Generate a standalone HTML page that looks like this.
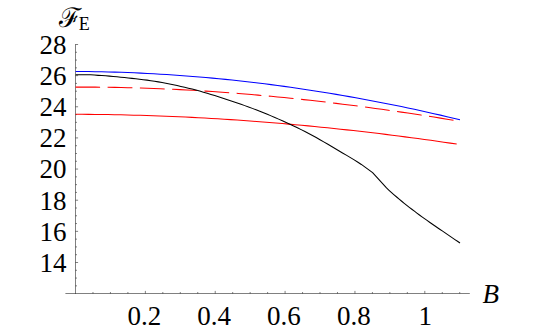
<!DOCTYPE html>
<html><head><meta charset="utf-8"><style>
html,body{margin:0;padding:0;background:#fff;font-family:"Liberation Sans",sans-serif;overflow:hidden}
svg{display:block}
.ax{stroke:#000;stroke-width:0.5;fill:none}
.c{fill:none;stroke-width:1.05;stroke-linejoin:round}
.t{font-family:"Liberation Serif","DejaVu Serif",serif;font-size:27px;fill:#000}
</style></head><body>
<svg width="539" height="333" viewBox="0 0 539 333">
<rect width="539" height="333" fill="#fff"/>
<line x1="75.5" y1="44.20" x2="75.5" y2="293.8" class="ax"/>
<line x1="65.4" y1="293.5" x2="469.8" y2="293.5" class="ax"/>
<line x1="75.5" y1="285.85" x2="77.0" y2="285.85" class="ax"/>
<line x1="75.5" y1="278.06" x2="77.0" y2="278.06" class="ax"/>
<line x1="75.5" y1="270.28" x2="77.0" y2="270.28" class="ax"/>
<line x1="75.5" y1="262.49" x2="78.1" y2="262.49" class="ax"/>
<line x1="75.5" y1="254.70" x2="77.0" y2="254.70" class="ax"/>
<line x1="75.5" y1="246.92" x2="77.0" y2="246.92" class="ax"/>
<line x1="75.5" y1="239.13" x2="77.0" y2="239.13" class="ax"/>
<line x1="75.5" y1="231.35" x2="78.1" y2="231.35" class="ax"/>
<line x1="75.5" y1="223.56" x2="77.0" y2="223.56" class="ax"/>
<line x1="75.5" y1="215.78" x2="77.0" y2="215.78" class="ax"/>
<line x1="75.5" y1="207.99" x2="77.0" y2="207.99" class="ax"/>
<line x1="75.5" y1="200.21" x2="78.1" y2="200.21" class="ax"/>
<line x1="75.5" y1="192.42" x2="77.0" y2="192.42" class="ax"/>
<line x1="75.5" y1="184.63" x2="77.0" y2="184.63" class="ax"/>
<line x1="75.5" y1="176.85" x2="77.0" y2="176.85" class="ax"/>
<line x1="75.5" y1="169.06" x2="78.1" y2="169.06" class="ax"/>
<line x1="75.5" y1="161.28" x2="77.0" y2="161.28" class="ax"/>
<line x1="75.5" y1="153.49" x2="77.0" y2="153.49" class="ax"/>
<line x1="75.5" y1="145.71" x2="77.0" y2="145.71" class="ax"/>
<line x1="75.5" y1="137.92" x2="78.1" y2="137.92" class="ax"/>
<line x1="75.5" y1="130.14" x2="77.0" y2="130.14" class="ax"/>
<line x1="75.5" y1="122.35" x2="77.0" y2="122.35" class="ax"/>
<line x1="75.5" y1="114.57" x2="77.0" y2="114.57" class="ax"/>
<line x1="75.5" y1="106.78" x2="78.1" y2="106.78" class="ax"/>
<line x1="75.5" y1="98.99" x2="77.0" y2="98.99" class="ax"/>
<line x1="75.5" y1="91.21" x2="77.0" y2="91.21" class="ax"/>
<line x1="75.5" y1="83.42" x2="77.0" y2="83.42" class="ax"/>
<line x1="75.5" y1="75.64" x2="78.1" y2="75.64" class="ax"/>
<line x1="75.5" y1="67.85" x2="77.0" y2="67.85" class="ax"/>
<line x1="75.5" y1="60.07" x2="77.0" y2="60.07" class="ax"/>
<line x1="75.5" y1="52.28" x2="77.0" y2="52.28" class="ax"/>
<line x1="75.5" y1="44.50" x2="78.1" y2="44.50" class="ax"/>
<line x1="92.97" y1="293.5" x2="92.97" y2="292.0" class="ax"/>
<line x1="110.43" y1="293.5" x2="110.43" y2="292.0" class="ax"/>
<line x1="127.90" y1="293.5" x2="127.90" y2="292.0" class="ax"/>
<line x1="145.36" y1="293.5" x2="145.36" y2="290.9" class="ax"/>
<line x1="162.82" y1="293.5" x2="162.82" y2="292.0" class="ax"/>
<line x1="180.29" y1="293.5" x2="180.29" y2="292.0" class="ax"/>
<line x1="197.75" y1="293.5" x2="197.75" y2="292.0" class="ax"/>
<line x1="215.22" y1="293.5" x2="215.22" y2="290.9" class="ax"/>
<line x1="232.69" y1="293.5" x2="232.69" y2="292.0" class="ax"/>
<line x1="250.15" y1="293.5" x2="250.15" y2="292.0" class="ax"/>
<line x1="267.62" y1="293.5" x2="267.62" y2="292.0" class="ax"/>
<line x1="285.08" y1="293.5" x2="285.08" y2="290.9" class="ax"/>
<line x1="302.55" y1="293.5" x2="302.55" y2="292.0" class="ax"/>
<line x1="320.01" y1="293.5" x2="320.01" y2="292.0" class="ax"/>
<line x1="337.48" y1="293.5" x2="337.48" y2="292.0" class="ax"/>
<line x1="354.94" y1="293.5" x2="354.94" y2="290.9" class="ax"/>
<line x1="372.41" y1="293.5" x2="372.41" y2="292.0" class="ax"/>
<line x1="389.87" y1="293.5" x2="389.87" y2="292.0" class="ax"/>
<line x1="407.34" y1="293.5" x2="407.34" y2="292.0" class="ax"/>
<line x1="424.80" y1="293.5" x2="424.80" y2="290.9" class="ax"/>
<line x1="442.27" y1="293.5" x2="442.27" y2="292.0" class="ax"/>
<line x1="459.73" y1="293.5" x2="459.73" y2="292.0" class="ax"/>
<text class="t" x="66.6" y="271.79" text-anchor="end">14</text>
<text class="t" x="66.6" y="240.65" text-anchor="end">16</text>
<text class="t" x="66.6" y="209.51" text-anchor="end">18</text>
<text class="t" x="66.6" y="178.36" text-anchor="end">20</text>
<text class="t" x="66.6" y="147.22" text-anchor="end">22</text>
<text class="t" x="66.6" y="116.08" text-anchor="end">24</text>
<text class="t" x="66.6" y="84.94" text-anchor="end">26</text>
<text class="t" x="66.6" y="53.8" text-anchor="end">28</text>
<text class="t" x="127.4" y="325.05">0.2</text>
<text class="t" x="197.3" y="325.05">0.4</text>
<text class="t" x="267.1" y="325.05">0.6</text>
<text class="t" x="337" y="325.05">0.8</text>
<text class="t" x="418.6" y="325.05">1</text>
<text class="t" x="482.5" y="302.9" font-style="italic">B</text>
<text class="t" x="59" y="27">ℱ</text>
<text class="t" x="78.8" y="30.05" style="font-size:18px">E</text>
<path d="M75.60 71.50 L82.12 71.53 L88.63 71.60 L95.15 71.69 L101.66 71.81 L108.18 71.95 L114.69 72.13 L121.21 72.34 L127.72 72.57 L134.24 72.83 L140.75 73.12 L147.27 73.43 L153.78 73.78 L160.30 74.15 L166.81 74.55 L173.33 74.98 L179.84 75.43 L186.36 75.92 L192.87 76.43 L199.39 76.96 L205.91 77.53 L212.42 78.12 L218.94 78.74 L225.45 79.38 L231.97 80.05 L238.48 80.75 L245.00 81.47 L251.51 82.22 L258.03 83.00 L264.54 83.81 L271.06 84.64 L277.57 85.49 L284.09 86.37 L290.60 87.28 L297.12 88.22 L303.63 89.18 L310.15 90.16 L316.66 91.17 L323.18 92.21 L329.69 93.27 L336.21 94.36 L342.73 95.47 L349.24 96.61 L355.76 97.77 L362.27 98.96 L368.79 100.17 L375.30 101.41 L381.82 102.67 L388.33 103.96 L394.85 105.27 L401.36 106.61 L407.88 107.97 L414.39 109.35 L420.91 110.76 L427.42 112.19 L433.94 113.65 L440.45 115.13 L446.97 116.64 L453.48 118.17 L460.00 119.72" class="c" stroke="#0000ff"/>
<path d="M75.60 87.11 L82.12 87.10 L88.63 87.11 L95.15 87.14 L101.66 87.19 L108.18 87.27 L114.69 87.38 L121.21 87.50 L127.72 87.65 L134.24 87.82 L140.75 88.01 L147.27 88.23 L153.78 88.46 L160.30 88.72 L166.81 89.00 L173.33 89.31 L179.84 89.63 L186.36 89.97 L192.87 90.34 L199.39 90.73 L205.91 91.13 L212.42 91.56 L218.94 92.01 L225.45 92.48 L231.97 92.97 L238.48 93.48 L245.00 94.01 L251.51 94.55 L258.03 95.12 L264.54 95.71 L271.06 96.31 L277.57 96.93 L284.09 97.58 L290.60 98.24 L297.12 98.92 L303.63 99.62 L310.15 100.33 L316.66 101.06 L323.18 101.81 L329.69 102.58 L336.21 103.37 L342.73 104.17 L349.24 104.99 L355.76 105.83 L362.27 106.68 L368.79 107.55 L375.30 108.43 L381.82 109.33 L388.33 110.25 L394.85 111.18 L401.36 112.13 L407.88 113.09 L414.39 114.07 L420.91 115.07 L427.42 116.07 L433.94 117.10 L440.45 118.14 L446.97 119.19 L453.48 120.25 L460.00 121.33" class="c" stroke="#ff0000" stroke-dasharray="24.8 7.5" stroke-dashoffset="0.3"/>
<path d="M75.60 114.31 L82.06 114.34 L88.52 114.38 L94.98 114.43 L101.44 114.51 L107.90 114.60 L114.36 114.71 L120.82 114.84 L127.27 114.99 L133.73 115.15 L140.19 115.33 L146.65 115.53 L153.11 115.74 L159.57 115.97 L166.03 116.22 L172.49 116.49 L178.95 116.77 L185.41 117.07 L191.87 117.39 L198.33 117.72 L204.79 118.07 L211.25 118.44 L217.71 118.82 L224.16 119.22 L230.62 119.64 L237.08 120.07 L243.54 120.52 L250.00 120.99 L256.46 121.47 L262.92 121.96 L269.38 122.48 L275.84 123.01 L282.30 123.55 L288.76 124.11 L295.22 124.69 L301.68 125.28 L308.14 125.89 L314.59 126.52 L321.05 127.16 L327.51 127.81 L333.97 128.48 L340.43 129.17 L346.89 129.87 L353.35 130.59 L359.81 131.32 L366.27 132.06 L372.73 132.83 L379.19 133.60 L385.65 134.39 L392.11 135.20 L398.57 136.02 L405.03 136.86 L411.48 137.71 L417.94 138.57 L424.40 139.45 L430.86 140.35 L437.32 141.26 L443.78 142.18 L450.24 143.12 L456.70 144.07" class="c" stroke="#ff0000"/>
<path d="M75.60 74.65 L79.36 74.65 L83.12 74.65 L86.88 74.67 L90.64 74.83 L94.40 75.09 L98.16 75.36 L101.92 75.59 L105.68 75.84 L109.44 76.11 L113.19 76.42 L116.95 76.77 L120.71 77.15 L124.47 77.55 L128.23 77.96 L131.99 78.37 L135.75 78.78 L139.51 79.20 L143.27 79.65 L147.03 80.13 L150.79 80.67 L154.55 81.25 L158.31 81.88 L162.07 82.54 L165.83 83.25 L169.59 84.00 L173.35 84.77 L177.11 85.58 L180.87 86.42 L184.63 87.28 L188.38 88.16 L192.14 89.08 L195.90 90.04 L199.66 91.07 L203.42 92.14 L207.18 93.26 L210.94 94.41 L214.70 95.59 L218.46 96.79 L222.22 98.01 L225.98 99.24 L229.74 100.46 L233.50 101.71 L237.26 102.98 L241.02 104.28 L244.78 105.62 L248.54 106.98 L252.30 108.37 L256.06 109.80 L259.82 111.26 L263.57 112.76 L267.33 114.29 L271.09 115.86 L274.85 117.47 L278.61 119.11 L282.37 120.78 L286.13 122.49 L289.89 124.23 L293.65 126.00 L297.41 127.80 L301.17 129.64 L304.93 131.52 L308.69 133.46 L312.45 135.47 L316.21 137.58 L319.97 139.73 L323.73 141.89 L327.49 144.07 L331.25 146.27 L335.01 148.49 L338.76 150.72 L342.52 152.94 L346.28 155.14 L350.04 157.36 L353.80 159.62 L357.56 161.96 L361.32 164.44 L365.08 167.06 L368.84 169.80 L372.60 172.65 L386.50 187.95 L389.03 190.29 L391.57 192.57 L394.10 194.81 L396.64 197.00 L399.17 199.14 L401.71 201.24 L404.24 203.30 L406.78 205.33 L409.31 207.32 L411.84 209.27 L414.38 211.20 L416.91 213.09 L419.45 214.96 L421.98 216.80 L424.52 218.62 L427.05 220.42 L429.59 222.21 L432.12 223.98 L434.66 225.73 L437.19 227.48 L439.72 229.21 L442.26 230.94 L444.79 232.66 L447.33 234.38 L449.86 236.11 L452.40 237.83 L454.93 239.56 L457.47 241.30 L460.00 243.04" class="c" stroke="#000"/>
</svg></body></html>
